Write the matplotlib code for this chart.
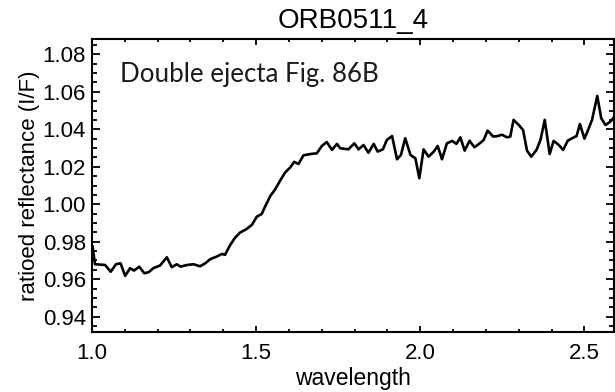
import matplotlib
matplotlib.use("Agg")
import matplotlib.pyplot as plt
from matplotlib.ticker import MultipleLocator

title = "ORB0511_4"
xlabel = "wavelength"
ylabel = "ratioed reflectance (I/F)"
annotation = "Double ejecta Fig. 86B"

wavelength = [
    1.002, 1.009, 1.040, 1.057, 1.073, 1.087, 1.101, 1.116, 1.128, 1.144,
    1.159, 1.172, 1.187, 1.207, 1.228, 1.243, 1.258, 1.270, 1.289, 1.309,
    1.329, 1.345, 1.360, 1.380, 1.396, 1.405, 1.421, 1.436, 1.451, 1.470,
    1.487, 1.502, 1.517, 1.527, 1.543, 1.558, 1.573, 1.588, 1.604, 1.616,
    1.629, 1.644, 1.665, 1.685, 1.700, 1.715, 1.731, 1.746,
    1.756, 1.781, 1.799, 1.812, 1.827, 1.842, 1.858, 1.870, 1.886, 1.898,
    1.914, 1.929, 1.941, 1.954, 1.970, 1.985, 1.997, 2.010, 2.025, 2.041,
    2.053, 2.066, 2.081, 2.097, 2.110, 2.122, 2.135, 2.150, 2.165, 2.181,
    2.193, 2.205, 2.222, 2.236, 2.249, 2.264, 2.274, 2.284, 2.300, 2.313,
    2.325, 2.338, 2.354, 2.366, 2.379, 2.394, 2.406, 2.422, 2.435, 2.449,
    2.462, 2.476, 2.486, 2.500, 2.513, 2.523, 2.539, 2.551, 2.564, 2.579,
    2.591,
]

reflectance = [
    0.9774, 0.9680, 0.9676, 0.9640, 0.9680, 0.9685, 0.9618, 0.9659, 0.9646, 0.9667,
    0.9632, 0.9637, 0.9659, 0.9673, 0.9717, 0.9664, 0.9680, 0.9667, 0.9676, 0.9680,
    0.9669, 0.9685, 0.9707, 0.9721, 0.9735, 0.9730, 0.9783, 0.9822, 0.9849, 0.9867,
    0.9890, 0.9934, 0.9948, 0.9987, 1.0044, 1.0080, 1.0126, 1.0169, 1.0197, 1.0226,
    1.0215, 1.0261, 1.0268, 1.0272, 1.0311, 1.0332, 1.0290, 1.0322,
    1.0299, 1.0293, 1.0325, 1.0293, 1.0316, 1.0275, 1.0322, 1.0281, 1.0293, 1.0343,
    1.0364, 1.0240, 1.0263, 1.0352, 1.0263, 1.0245, 1.0139, 1.0293, 1.0254, 1.0281,
    1.0311, 1.0240, 1.0325, 1.0338, 1.0322, 1.0357, 1.0286, 1.0339, 1.0304, 1.0325,
    1.0343, 1.0393, 1.0361, 1.0364, 1.0371, 1.0357, 1.0361, 1.0450, 1.0423, 1.0396,
    1.0286, 1.0254, 1.0290, 1.0343, 1.0450, 1.0268, 1.0338, 1.0316, 1.0290, 1.0339,
    1.0352, 1.0364, 1.0428, 1.0350, 1.0405, 1.0450, 1.0578, 1.0459, 1.0423, 1.0441,
    1.0467,
]

x_major_ticks = [1.0, 1.5, 2.0, 2.5]
x_tick_labels = ["1.0", "1.5", "2.0", "2.5"]
y_major_ticks = [0.94, 0.96, 0.98, 1.00, 1.02, 1.04, 1.06, 1.08]
y_tick_labels = ["0.94", "0.96", "0.98", "1.00", "1.02", "1.04", "1.06", "1.08"]

plt.rcParams['font.family'] = ['Liberation Sans', 'DejaVu Sans']

fig = plt.figure(figsize=(6.15, 3.92), dpi=100)
ax = fig.add_axes([0.1496, 0.1538, 0.8488, 0.7459])

ax.plot(wavelength, reflectance, color='black', linewidth=1.9)

ax.set_xlim(1.0, 2.59)
ax.set_ylim(0.932, 1.088)

ax.set_xticks(x_major_ticks)
ax.set_xticklabels(x_tick_labels)
ax.set_yticks(y_major_ticks)
ax.set_yticklabels(y_tick_labels)
ax.xaxis.set_minor_locator(MultipleLocator(0.1))
ax.yaxis.set_minor_locator(MultipleLocator(0.005))

ax.tick_params(axis='both', which='both', direction='in', top=True, right=True,
               labelsize=16, width=1.3, colors='black')
ax.tick_params(axis='x', which='major', length=4, pad=8)
ax.tick_params(axis='x', which='minor', length=2.2)
ax.tick_params(axis='y', which='major', length=6, pad=4.5)
ax.tick_params(axis='y', which='minor', length=3.5)

for s in ax.spines.values():
    s.set_linewidth(1.5)

ax.set_xlabel(xlabel, fontsize=16.5, labelpad=2)
ax.set_ylabel(ylabel, fontsize=16, labelpad=2)
ax.set_title(title, fontsize=20, pad=8)

ax.text(0.0536, 0.855, annotation, transform=ax.transAxes, fontsize=18.6,
        family=['Lato', 'DejaVu Sans'], va='baseline', ha='left', color='#1a1a1a')

fig.savefig("out.png", dpi=100)
